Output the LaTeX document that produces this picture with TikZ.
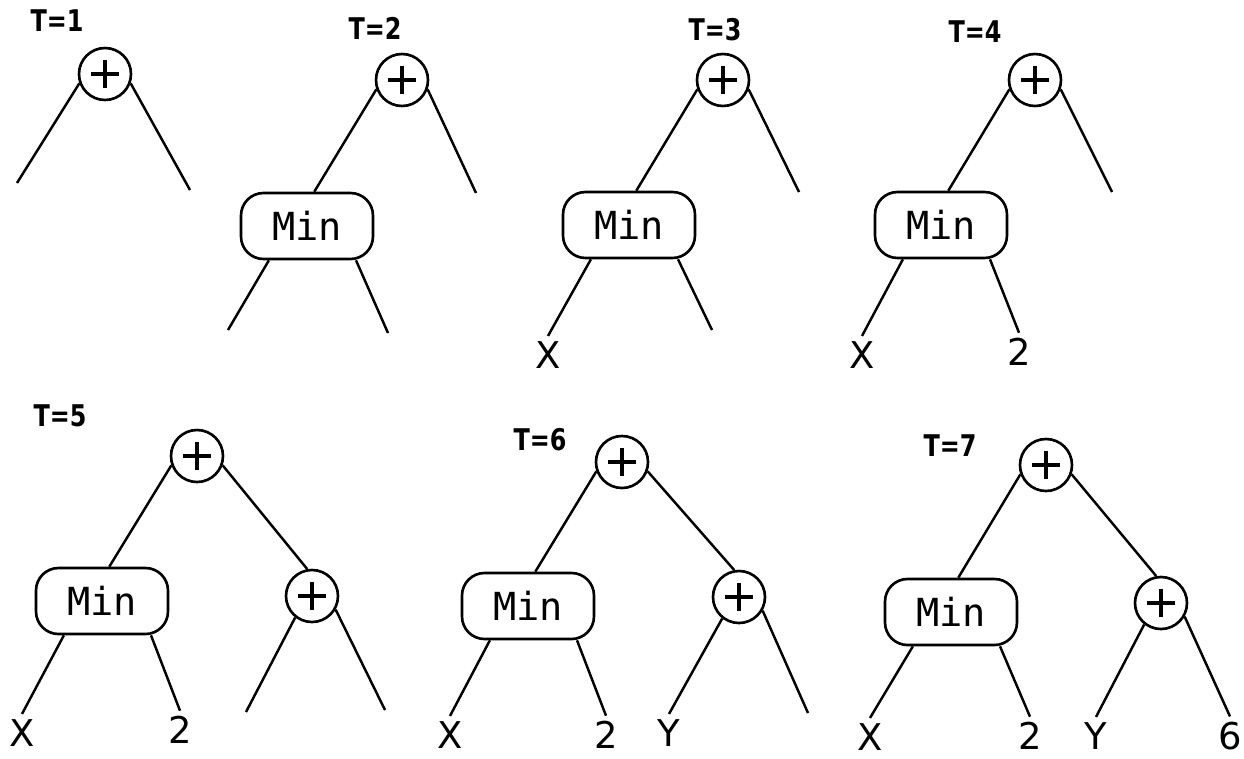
\documentclass[tikz,border=0pt]{standalone}
\usepackage{fontspec}
\usepackage{tikz}
\newfontfamily\minfont{DejaVu Sans Mono}
\newfontfamily\leaffont{DejaVu Sans}
\newfontfamily\stepfont[FakeStretch=0.8]{DejaVu Sans}

\begin{document}
\begin{tikzpicture}[
    x=0.02cm, y=-0.02cm,
    plusnode/.style={circle, draw, line width=1.5pt, minimum size=1.04cm, inner sep=0pt,
        path picture={
            \draw[line width=1.9pt] ([xshift=-0.28cm]path picture bounding box.center) -- ([xshift=0.28cm]path picture bounding box.center);
            \draw[line width=1.9pt] ([yshift=-0.28cm]path picture bounding box.center) -- ([yshift=0.28cm]path picture bounding box.center);
        }},
    minnode/.style={rectangle, draw, rounded corners=0.45cm, line width=1.5pt, minimum width=2.64cm, minimum height=1.32cm, font=\minfont\fontsize{22}{24}\selectfont},
    leaf/.style={inner sep=3pt, font=\leaffont\fontsize{21}{24}\selectfont},
    tlabel/.style={inner sep=0pt, font=\stepfont\bfseries\fontsize{17}{19}\selectfont},
    branch/.style={line width=1.4pt}
]
\useasboundingbox (0,0) rectangle (1244,758);

\node[tlabel] (t1) at (57,21) {T=1};
\node[plusnode] (p1) at (105,74) {};
\coordinate (a1) at (17,183);
\coordinate (b1) at (190,190);
\draw[branch] (p1.200) -- (a1);
\draw[branch] (p1.340) -- (b1);

\node[tlabel] (t2) at (375,28) {T=2};
\node[plusnode] (p2) at (402,80) {};
\node[minnode] (m2) at (307,226) {Min};
\coordinate (b2) at (476,193);
\coordinate (c2) at (228,330);
\coordinate (d2) at (388,333);
\draw[branch] (p2.200) -- (m2.78);
\draw[branch] (p2.340) -- (b2);
\draw[branch] (m2.222) -- (c2);
\draw[branch] (m2.325) -- (d2);

\node[tlabel] (t3) at (715,30) {T=3};
\node[plusnode] (p3) at (723,80) {};
\node[minnode] (m3) at (629,225) {Min};
\node[leaf] (x3) at (548,355) {X};
\coordinate (b3) at (799,192);
\coordinate (d3) at (712,330);
\draw[branch] (p3.200) -- (m3.78);
\draw[branch] (p3.340) -- (b3);
\draw[branch] (m3.222) -- (x3.north);
\draw[branch] (m3.325) -- (d3);

\node[tlabel] (t4) at (975,32) {T=4};
\node[plusnode] (p4) at (1035,80) {};
\node[minnode] (m4) at (941,225) {Min};
\node[leaf] (x4) at (862,355) {X};
\node[leaf] (n4) at (1019,352) {2};
\coordinate (b4) at (1112,192);
\draw[branch] (p4.200) -- (m4.78);
\draw[branch] (p4.340) -- (b4);
\draw[branch] (m4.222) -- (x4.north);
\draw[branch] (m4.325) -- (n4.north);

\node[tlabel] (t5) at (60,416) {T=5};
\node[plusnode] (p5) at (197,456) {};
\node[minnode] (m5) at (102,601) {Min};
\node[plusnode] (q5) at (312,596) {};
\node[leaf] (x5) at (22,733) {X};
\node[leaf] (n5) at (180,730) {2};
\coordinate (e5) at (246,712);
\coordinate (f5) at (385,710);
\draw[branch] (p5.200) -- (m5.78);
\draw[branch] (p5.340) -- (q5.100);
\draw[branch] (m5.222) -- (x5.north);
\draw[branch] (m5.325) -- (n5.north);
\draw[branch] (q5.232) -- (e5);
\draw[branch] (q5.330) -- (f5);

\node[tlabel] (t6) at (540,440) {T=6};
\node[plusnode] (p6) at (622,462) {};
\node[minnode] (m6) at (528,606) {Min};
\node[plusnode] (q6) at (739,597) {};
\node[leaf] (x6) at (450,735) {X};
\node[leaf] (n6) at (606,735) {2};
\node[leaf] (y6) at (669,733) {Y};
\coordinate (f6) at (808,713);
\draw[branch] (p6.200) -- (m6.78);
\draw[branch] (p6.340) -- (q6.100);
\draw[branch] (m6.222) -- (x6.north);
\draw[branch] (m6.325) -- (n6.north);
\draw[branch] (q6.232) -- (y6.north);
\draw[branch] (q6.330) -- (f6);

\node[tlabel] (t7) at (950,446) {T=7};
\node[plusnode] (p7) at (1046,465) {};
\node[minnode] (m7) at (951,612) {Min};
\node[plusnode] (q7) at (1161,603) {};
\node[leaf] (x7) at (870,737) {X};
\node[leaf] (n7) at (1030,736) {2};
\node[leaf] (y7) at (1096,736) {Y};
\node[leaf] (s7) at (1230,736) {6};
\draw[branch] (p7.200) -- (m7.78);
\draw[branch] (p7.340) -- (q7.100);
\draw[branch] (m7.222) -- (x7.north);
\draw[branch] (m7.325) -- (n7.north);
\draw[branch] (q7.232) -- (y7.north);
\draw[branch] (q7.330) -- (s7.north);
\end{tikzpicture}
\end{document}
